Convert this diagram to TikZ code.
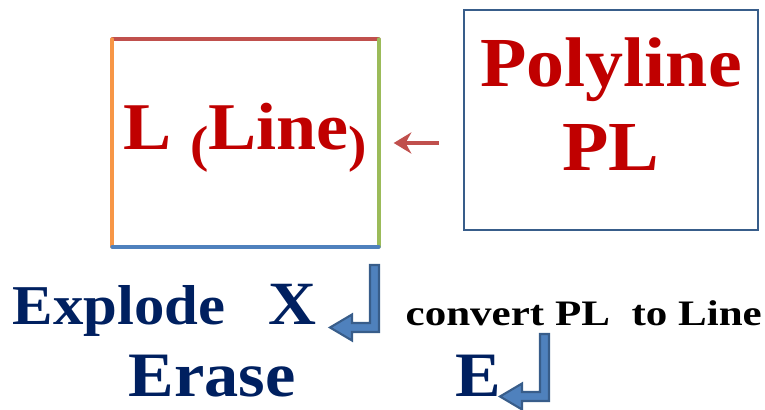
\documentclass[tikz,border=0pt]{standalone}
\usepackage{fontspec}
\setmainfont[FakeStretch=1.08]{Liberation Serif}
\newfontfamily\widefont[FakeStretch=1.2]{Liberation Serif}
\usepackage{xcolor}
\definecolor{darkred}{HTML}{C00000}
\definecolor{navy}{HTML}{002060}
\definecolor{edgered}{HTML}{C0504D}
\definecolor{edgeorange}{HTML}{F79646}
\definecolor{edgegreen}{HTML}{9BBB59}
\definecolor{edgeblue}{HTML}{4F81BD}
\definecolor{boxblue}{HTML}{385D8A}
\usetikzlibrary{positioning,arrows.meta}

\begin{document}
\begin{tikzpicture}[
  title/.style={font=\bfseries\fontsize{20}{24}\selectfont, text=darkred, align=center},
  cmd/.style={font=\bfseries\fontsize{16}{19}\selectfont, text=navy, inner sep=0pt, anchor=base west},
  big/.style={cmd, font=\bfseries\fontsize{18}{22}\selectfont},
  note/.style={font=\widefont\bfseries\fontsize{10.2}{13}\selectfont, inner sep=0pt, anchor=base west},
  side/.style={line width=1.1pt, line cap=round},
  enterkey/.pic={\filldraw[draw=boxblue, fill=edgeblue, line width=0.6pt]
    (-0.045,0) -- (0.045,0) -- (0.045,-0.67) -- (-0.225,-0.67) -- (-0.225,-0.755)
    -- (-0.445,-0.625) -- (-0.225,-0.495) -- (-0.225,-0.58) -- (-0.045,-0.58) -- cycle;}]
  \useasboundingbox (0,0) rectangle (7.65,4.10);
  % the two boxes
  \node[minimum width=2.65cm, minimum height=2.06cm] (lbox) at (2.455,2.67) {};
  \draw[side, edgered] (lbox.north west) -- (lbox.north east);
  \draw[side, edgeorange] (lbox.north west) -- (lbox.south west);
  \draw[side, edgegreen] (lbox.north east) -- (lbox.south east);
  \draw[side, edgeblue] (lbox.south west) -- (lbox.south east);
  \node[title, font=\bfseries\fontsize{19}{24}\selectfont] (lname) at ([yshift=0.05cm]lbox.center)
    {L {\fontsize{14.5}{14}\selectfont\raisebox{-3.5pt}{(}}Line{\fontsize{14.5}{14}\selectfont\raisebox{-3.5pt}{)}}};
  \node[draw=boxblue, line width=0.8pt, minimum width=2.94cm, minimum height=2.2cm] (pl) at (6.11,2.90) {};
  \node[title] (plname) at ([yshift=0.16cm]pl.center) {Polyline\\PL};
  \draw[-{Stealth[length=5pt, width=6pt]}, edgered, line width=1.1pt, shorten <=0.24cm, shorten >=0.15cm]
    (lbox.east -| pl.west) -- (lbox.east);
  % commands
  \node[cmd] (explode) at (0.12,0.85) {Explode};
  \node[cmd, font=\bfseries\fontsize{17.5}{19}\selectfont] (xkey) at (2.68,0.85) {X};
  \node[note] (conv) at (4.05,0.84) {convert PL\ \ to Line};
  \node[big] (erase) at (1.28,0.13) {Erase};
  \node[big] (ekey) at (4.55,0.13) {E};
  \pic (enterx) at (3.745,1.45) {enterkey};
  \pic (entere) at (5.445,0.76) {enterkey};
\end{tikzpicture}
\end{document}
